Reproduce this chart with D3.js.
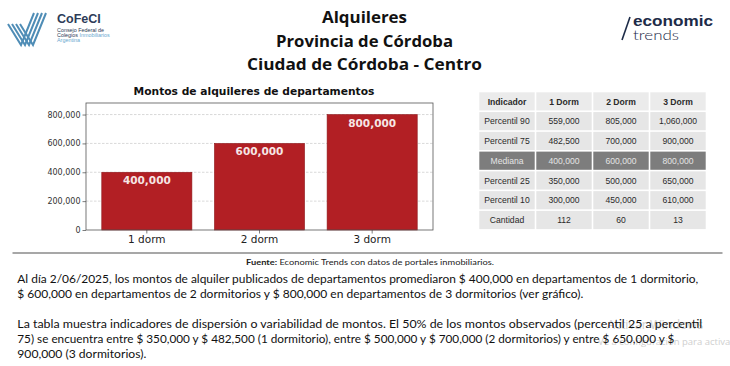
<!DOCTYPE html>
<html>
<head>
<meta charset="utf-8">
<script src="https://cdn.jsdelivr.net/npm/d3@7"></script>
<style>
  html, body { margin: 0; padding: 0; background: #ffffff; }
  svg { display: block; }
</style>
</head>
<body>
<script>
// ---------- DATA ----------
const titleLines = ["Alquileres", "Provincia de Córdoba", "Ciudad de Córdoba - Centro"];
const titleWidths = [85, 177, 235];
const chartTitle = "Montos de alquileres de departamentos";
const categories = ["1 dorm", "2 dorm", "3 dorm"];
const values = [400000, 600000, 800000];
const yTicks = [0, 200000, 400000, 600000, 800000];
const yMax = 880000;

const tableHeader = ["Indicador", "1 Dorm", "2 Dorm", "3 Dorm"];
const tableIndicators = ["Percentil 90", "Percentil 75", "Mediana", "Percentil 25", "Percentil 10", "Cantidad"];
const dorm1 = ["559,000", "482,500", "400,000", "350,000", "300,000", "112"];
const dorm2 = ["805,000", "700,000", "600,000", "500,000", "450,000", "60"];
const dorm3 = ["1,060,000", "900,000", "800,000", "650,000", "610,000", "13"];
const highlightRow = "Mediana";

const sourceBold = "Fuente:";
const sourceText = " Economic Trends con datos de portales inmobiliarios.";
const paragraphLines = [
  "Al día 2/06/2025, los montos de alquiler publicados de departamentos promediaron $ 400,000 en departamentos de 1 dormitorio,",
  "$ 600,000 en departamentos de 2 dormitorios y $ 800,000 en departamentos de 3 dormitorios (ver gráfico).",
  "",
  "La tabla muestra indicadores de dispersión o variabilidad de montos. El 50% de los montos observados (percentil 25 a percentil",
  "75) se encuentra entre $ 350,000 y $ 482,500 (1 dormitorio), entre $ 500,000 y $ 700,000 (2 dormitorios) y entre $ 650,000 y $",
  "900,000 (3 dormitorios)."
];
const paragraphWidths = [681, 566, 0, 685, 657, 129];

// ---------- SVG ----------
const W = 730, H = 366;
const svg = d3.select("body").append("svg").attr("width", W).attr("height", H);
svg.append("rect").attr("width", W).attr("height", H).attr("fill", "#ffffff");

// ---------- CoFeCI logo ----------
const logo = svg.append("g");
[0, 1, 2, 3].forEach(i => {
  logo.append("path")
    .attr("d", `M${8 + i * 4},${24} L${21 + i * 4},${45} L${34 + i * 4},${13}`)
    .attr("fill", "none").attr("stroke", "#4f8db6").attr("stroke-width", 2)
    .attr("stroke-linejoin", "miter");
});
logo.append("text").attr("x", 57).attr("y", 22.5)
  .attr("font-family", "Liberation Sans, Arial, sans-serif").attr("font-weight", "bold")
  .attr("font-size", 12.5).attr("fill", "#2d3c58").text("CoFeCI");
logo.append("text").attr("x", 57).attr("y", 32)
  .attr("font-family", "Liberation Sans, Arial, sans-serif").attr("font-size", 5.4)
  .attr("fill", "#2d3c58").text("Consejo Federal de");
const l2 = logo.append("text").attr("x", 57).attr("y", 37)
  .attr("font-family", "Liberation Sans, Arial, sans-serif").attr("font-size", 5.4);
l2.append("tspan").attr("fill", "#2d3c58").text("Colegios ");
l2.append("tspan").attr("fill", "#6aa8cf").text("Inmobiliarios");
logo.append("text").attr("x", 57).attr("y", 42)
  .attr("font-family", "Liberation Sans, Arial, sans-serif").attr("font-size", 5.4)
  .attr("fill", "#6aa8cf").text("Argentina");

// ---------- economic trends logo ----------
const et = svg.append("g");
et.append("line").attr("x1", 630).attr("y1", 17).attr("x2", 622).attr("y2", 40)
  .attr("stroke", "#1d2b48").attr("stroke-width", 1.6);
et.append("text").attr("x", 633).attr("y", 26)
  .attr("font-family", "Liberation Sans, Arial, sans-serif").attr("font-weight", "bold")
  .attr("font-size", 15).attr("textLength", 80).attr("lengthAdjust", "spacingAndGlyphs")
  .attr("fill", "#1d2b48").text("economic");
et.append("text").attr("x", 633).attr("y", 39.5)
  .attr("font-family", "Lato, Liberation Sans, sans-serif").attr("font-weight", 300)
  .attr("font-size", 14.5).attr("textLength", 46).attr("lengthAdjust", "spacingAndGlyphs")
  .attr("fill", "#1d2b48").text("trends");

// ---------- main titles ----------
const titleY = [23.3, 46.7, 69.5];
svg.selectAll("text.maintitle").data(titleLines).join("text")
  .attr("class", "maintitle")
  .attr("x", 364.5).attr("y", (d, i) => titleY[i])
  .attr("text-anchor", "middle")
  .attr("font-family", "Open Sans, DejaVu Sans, sans-serif").attr("font-weight", "bold")
  .attr("font-size", 16.5).attr("fill", "#111")
  .attr("textLength", (d, i) => titleWidths[i]).attr("lengthAdjust", "spacingAndGlyphs")
  .text(d => d);

// ---------- bar chart ----------
const plot = { left: 86, right: 433, top: 103, bottom: 230 };
const x = d3.scaleBand().domain(categories).range([plot.left, plot.right])
  .paddingInner(0.2).paddingOuter(0.14);
const y = d3.scaleLinear().domain([0, yMax]).range([plot.bottom, plot.top]);

const chart = svg.append("g");
chart.append("text").attr("x", 254).attr("y", 95)
  .attr("text-anchor", "middle")
  .attr("font-family", "DejaVu Sans, sans-serif").attr("font-weight", "bold")
  .attr("font-size", 10.7).attr("fill", "#111").text(chartTitle);

// grid
chart.append("g").selectAll("line").data(yTicks.filter(d => d > 0)).join("line")
  .attr("x1", plot.left).attr("x2", plot.right)
  .attr("y1", d => y(d)).attr("y2", d => y(d))
  .attr("stroke", "#c8c8c8").attr("stroke-width", 0.7).attr("stroke-dasharray", "2.5,1.5");

// bars
chart.append("g").selectAll("rect").data(values).join("rect")
  .attr("x", (d, i) => x(categories[i]))
  .attr("width", x.bandwidth())
  .attr("y", d => y(d))
  .attr("height", d => y(0) - y(d))
  .attr("fill", "#b21f24").attr("stroke", "#8e1a1d").attr("stroke-width", 0.6);

// bar labels
chart.append("g").selectAll("text").data(values).join("text")
  .attr("x", (d, i) => x(categories[i]) + x.bandwidth() / 2)
  .attr("y", d => y(d) + 12)
  .attr("text-anchor", "middle")
  .attr("font-family", "DejaVu Sans, sans-serif").attr("font-weight", "bold")
  .attr("font-size", 10.5).attr("fill", "#f6e6e6")
  .text(d => d3.format(",")(d));

// frame
chart.append("rect").attr("x", plot.left).attr("y", plot.top)
  .attr("width", plot.right - plot.left).attr("height", plot.bottom - plot.top)
  .attr("fill", "none").attr("stroke", "#555").attr("stroke-width", 0.8);

// y axis
const yAxis = chart.append("g").attr("transform", `translate(${plot.left},0)`)
  .call(d3.axisLeft(y).tickValues(yTicks).tickFormat(d3.format(",")).tickSize(3.5).tickPadding(2));
yAxis.select(".domain").remove();
yAxis.selectAll("line").attr("stroke", "#444").attr("stroke-width", 0.7);
yAxis.selectAll("text").attr("font-family", "DejaVu Sans, sans-serif").attr("font-size", 8)
  .attr("fill", "#333");

// x axis
const xAxis = chart.append("g").attr("transform", `translate(0,${plot.bottom})`)
  .call(d3.axisBottom(x).tickSize(3.5).tickPadding(2));
xAxis.select(".domain").remove();
xAxis.selectAll("line").attr("stroke", "#444").attr("stroke-width", 0.7);
xAxis.selectAll("text").attr("font-family", "DejaVu Sans, sans-serif").attr("font-size", 10.5)
  .attr("fill", "#222");

// ---------- table ----------
const tbl = { left: 479.3, top: 92.3, colW: 57, rowH: 19.77, gap: 1.6 };
const rows = [tableHeader].concat(tableIndicators.map((ind, i) => [ind, dorm1[i], dorm2[i], dorm3[i]]));
const tg = svg.append("g");
rows.forEach((row, r) => {
  const hi = row[0] === highlightRow;
  row.forEach((cell, c) => {
    const cx = tbl.left + c * tbl.colW;
    const cy = tbl.top + r * tbl.rowH;
    tg.append("rect").attr("x", cx).attr("y", cy)
      .attr("width", tbl.colW - tbl.gap).attr("height", tbl.rowH - tbl.gap)
      .attr("fill", hi ? "#7d7d7d" : (r === 0 ? "#ebebeb" : "#e6e6e6"));
    tg.append("text").attr("x", cx + (tbl.colW - tbl.gap) / 2).attr("y", cy + (tbl.rowH - tbl.gap) / 2 + 3.2)
      .attr("text-anchor", "middle")
      .attr("font-family", "Liberation Sans, Arial, sans-serif")
      .attr("font-weight", r === 0 ? "bold" : "normal")
      .attr("font-size", 8.6)
      .attr("fill", hi ? "#e4e4e4" : "#2a2a2a")
      .text(cell);
  });
});

// ---------- separator & source ----------
svg.append("line").attr("x1", 12.5).attr("x2", 722.5).attr("y1", 253).attr("y2", 253)
  .attr("stroke", "#8a8a8a").attr("stroke-width", 1.4);
const src = svg.append("text").attr("x", 246).attr("y", 264.5)
  .attr("font-family", "Lato, Liberation Sans, sans-serif").attr("font-size", 7.3)
  .attr("fill", "#222").attr("textLength", 248).attr("lengthAdjust", "spacingAndGlyphs");
src.append("tspan").attr("font-weight", "bold").text(sourceBold);
src.append("tspan").text(sourceText);

// ---------- watermark ----------
svg.append("text").attr("x", 607).attr("y", 329)
  .attr("font-family", "Open Sans, sans-serif").attr("font-size", 12.5)
  .attr("fill", "#cfcfcf").text("Activar Windows");
svg.append("text").attr("x", 598).attr("y", 345)
  .attr("font-family", "Open Sans, sans-serif").attr("font-size", 9.5)
  .attr("fill", "#cfcfcf").text("Ve a configuración para activar Windows.");

// ---------- paragraph ----------
const paraY0 = 283, paraStep = 15;
paragraphLines.forEach((line, i) => {
  if (!line) return;
  svg.append("text").attr("x", 17.3).attr("y", paraY0 + i * paraStep)
    .attr("font-family", "Lato, Liberation Sans, sans-serif").attr("font-size", 11.6)
    .attr("fill", "#111")
    .attr("textLength", paragraphWidths[i]).attr("lengthAdjust", "spacingAndGlyphs")
    .text(line);
});
</script>
</body>
</html>
